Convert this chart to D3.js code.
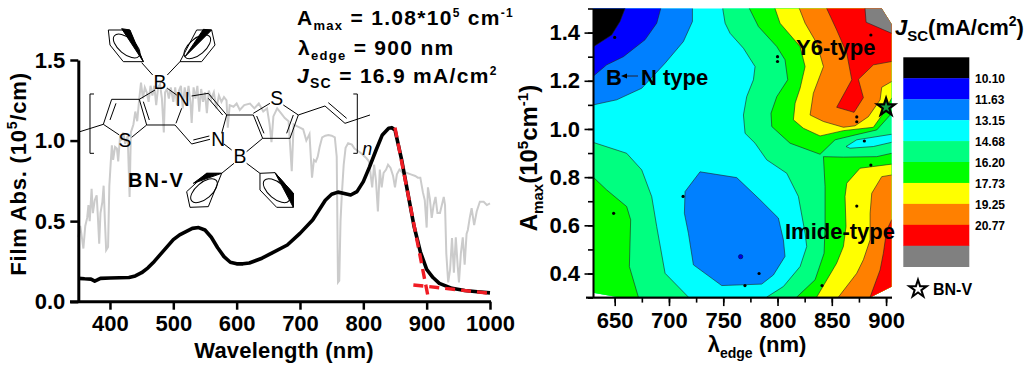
<!DOCTYPE html>
<html>
<head>
<meta charset="utf-8">
<script src="https://cdn.jsdelivr.net/npm/d3@7"></script>
<style>
  html, body { margin: 0; padding: 0; background: #fff; }
  svg { display: block; }
  text { font-family: "Liberation Sans", Arial, sans-serif; font-weight: bold; fill: #000; }
</style>
</head>
<body>
<div id="chart"></div>
<script>
// left panel: film absorption, [wavelength nm, abs 10^5/cm]
const absCurve = [[350,.145],[360,.142],[370,.14],[376,.128],[380,.135],[385,.145],[400,.147],[430,.15],[440,.16],[450,.18],[460,.21],[470,.25],[480,.295],[490,.34],[500,.385],[510,.415],[520,.435],[530,.455],[540,.46],[550,.445],[560,.40],[570,.335],[580,.28],[590,.245],[600,.235],[610,.235],[620,.24],[640,.27],[650,.29],[680,.352],[700,.424],[720,.507],[740,.63],[750,.667],[760,.68],[770,.672],[780,.662],[790,.683],[800,.745],[810,.838],[820,.94],[830,1.035],[840,1.077],[845,1.08],[850,1.066],[860,.89],[870,.68],[880,.47],[890,.31],[900,.2],[910,.15],[920,.114],[940,.083],[960,.07],[980,.062],[1000,.055]];

// grey solar spectrum behind the absorption curve
const solarSpectrum = [[350,.40],[353,.47],[356,.39],[358,.33],[361,.47],[364,.52],[366,.60],[368,.50],[371,.70],[373,.55],[376,.63],[379,.66],[381,.52],[383,.36],[385,.55],[388,.62],[390,.72],[392,.50],[394,.32],[397,.34],[399,.72],[401,.85],[403,.97],[405,.88],[408,.96],[411,.95],[413,.87],[416,1.03],[418,1.0],[421,1.05],[424,.98],[428,1.03],[431,.65],[433,1.05],[437,1.1],[440,1.18],[443,1.12],[446,1.25],[449,1.36],[452,1.26],[455,1.33],[458,1.30],[461,1.24],[464,1.34],[467,1.28],[470,1.34],[473,1.22],[476,1.33],[479,1.35],[482,1.26],[485,1.05],[487,1.30],[490,1.32],[493,1.26],[496,1.33],[500,1.24],[503,1.33],[506,1.22],[509,1.31],[512,1.34],[515,1.2],[518,1.33],[521,1.25],[524,1.34],[527,1.24],[529,1.11],[532,1.33],[535,1.26],[538,1.34],[541,1.18],[544,1.32],[547,1.24],[550,1.3],[553,1.17],[556,1.31],[560,1.26],[564,1.3],[568,1.2],[572,1.28],[576,1.24],[580,1.27],[584,1.25],[586,1.08],[589,1.22],[595,1.21],[600,1.23],[605,1.19],[612,1.22],[621,1.23],[628,1.2],[635,1.23],[642,1.18],[648,1.2],[652,1.1],[655,.99],[658,1.15],[664,1.2],[670,1.17],[676,1.14],[682,1.12],[687,.81],[690,1.1],[695,1.09],[700,1.08],[705,1.07],[710,1.0],[715,1.04],[719,.77],[722,.88],[725,.87],[728,.9],[731,.96],[735,1.02],[740,1.03],[745,1.035],[750,1.03],[755,1.02],[758,.9],[760,.12],[762,.13],[764,.5],[766,.66],[769,.85],[772,.955],[776,.983],[782,.975],[786,.95],[790,.94],[797,.92],[805,.89],[809,.87],[814,.71],[817,.85],[820,.75],[823,.56],[826,.82],[829,.71],[832,.8],[836,.82],[839,.85],[843,.83],[847,.78],[850,.71],[853,.79],[857,.82],[862,.8],[868,.8],[875,.79],[882,.78],[886,.77],[890,.77],[894,.68],[897,.63],[900,.46],[902,.71],[905,.64],[908,.52],[911,.6],[914,.65],[917,.55],[921,.55],[924,.6],[927,.65],[929,.6],[931,.3],[934,.12],[937,.2],[940,.395],[943,.18],[946,.4],[949,.22],[951,.12],[954,.3],[957,.4],[960,.23],[963,.42],[965,.445],[968,.52],[971,.58],[975,.475],[979,.56],[984,.62],[990,.62],[995,.6],[1000,.61]];

// the two tangents used to read the absorption edge
const edgeTangent = [[850,1.08],[902,0.035]];
const baseTangent = [[879,.104],[1000,.052]];

const absTicksX = [400, 500, 600, 700, 800, 900, 1000];
const absTicksY = [0, 0.5, 1.0, 1.5];

// right panel: contour regions, [edge nm, Amax 10^5/cm], painted back to front over cyan
const regionMidBlueTop = [[620,1.09],[651.8,1.121],[674.9,1.169],[696.4,1.273],[713.3,1.363],[721.6,1.446],[721.6,1.55],[620,1.55]];
const regionBlueTop = [[620,1.22],[629.7,1.217],[642.6,1.266],[658,1.30],[677.9,1.37],[688.7,1.439],[692.4,1.50],[692.4,1.55],[620,1.55]];
const regionBlackTop = [[620,1.34],[629.7,1.339],[647.2,1.39],[654.9,1.446],[659.5,1.50],[659.5,1.55],[620,1.55]];
const regionSpringLeft = [[620,.945],[629.7,.945],[661,.899],[674.9,.83],[684.1,.719],[688.7,.595],[696.4,.401],[717.9,.302],[725,.25],[620,.25]];
const regionGreenLeft = [[620,.802],[629.7,.802],[642.6,.747],[661,.678],[664.7,.623],[663.5,.429],[671.8,.302],[675,.25],[620,.25]];
const regionMidBlueCentre = [[728.6,.822],[762.4,.798],[783.9,.706],[800.8,.63],[805.4,.54],[806.9,.471],[796.2,.394],[785.4,.356],[748.6,.35],[722.5,.436],[717.9,.567],[714.2,.65],[714.8,.74]];
const regionSpringRight = [[749.5,1.55],[749.5,1.50],[751.7,1.439],[756.3,1.397],[768.6,1.335],[779.3,1.259],[777.8,1.204],[771.6,1.134],[768.6,1.058],[770.1,.982],[779.3,.941],[790,.872],[808.5,.816],[819.2,.72],[825.4,.567],[826.9,.512],[820.8,.429],[805.4,.346],[790,.302],[780,.25],[915,.25],[915,1.55]];
const regionCyanSliver = [[863.1,.927],[873,.955],[915,.985],[915,.955],[888.3,.927],[866.8,.92]];
const regionGreenUpper = [[774.1,1.55],[774.1,1.50],[782.4,1.425],[799.3,1.342],[806.9,1.287],[809.4,1.204],[799.3,1.134],[794,1.065],[794.7,1.01],[811.5,.941],[839.2,.895],[853,.955],[871.4,.975],[891.4,.996],[905.2,1.065],[915,1.075],[915,1.55]];
const regionGreenLower = [[842.3,.885],[860.7,.883],[891.4,.885],[905.2,.899],[915,.9],[915,.25],[805,.25],[817.7,.302],[834.6,.374],[842.9,.484],[843.8,.595],[843.8,.761]];
const regionYellowLower = [[915,.855],[905.2,.854],[876,.837],[863.8,.775],[862.2,.72],[863.1,.595],[860.7,.512],[854.5,.443],[836.1,.302],[825,.25],[915,.25]];
const regionOrangeLower = [[915,.81],[905.2,.809],[896,.802],[886.8,.733],[885.3,.65],[885.3,.54],[879.1,.457],[873,.401],[856.1,.302],[845,.25],[915,.25]];
const regionRedLower = [[915,.62],[905.2,.623],[900.6,.581],[897.5,.484],[894.5,.415],[885.3,.302],[880,.25],[915,.25]];
const regionYellowUpper = [[797.7,1.55],[797.7,1.50],[802.3,1.439],[820.8,1.342],[825.4,1.259],[820.8,1.169],[816.2,1.107],[814.6,1.038],[823.8,1.003],[839.2,.971],[860.7,.993],[888.3,1.007],[897.5,1.065],[905.2,1.128],[915,1.14],[915,1.55]];
const regionOrangeUpper = [[820.1,1.55],[820.1,1.50],[825.4,1.439],[836.1,1.356],[842.3,1.259],[833,1.148],[830,1.058],[842.3,1.031],[860.7,1.007],[871.4,1.013],[883.7,1.051],[894.5,1.121],[896,1.173],[905.2,1.197],[915,1.2],[915,1.55]];
const regionRedUpper = [[845.3,1.55],[845.3,1.50],[854.5,1.411],[863.8,1.314],[868.4,1.204],[854.5,1.09],[870.5,1.069],[879.1,1.13],[874.5,1.206],[888.3,1.266],[905.2,1.28],[915,1.28],[915,1.55]];
const regionGreyTop = [[880.6,1.55],[880.6,1.50],[881.6,1.443],[905.2,1.397],[915,1.39],[915,1.55]];
const plotOutline = [[630,1.5],[896,1.5],[905,1.436],[905,.345],[885.3,.3],[655,.3],[630,.32]];

// devices measured
const deviceEdge = [650,800,800,886,873,873,880,886,873,649,713,783,770,841];
const deviceAmax = [1.38,1.30,1.28,1.39,1.05,1.03,.95,.85,.68,.65,.72,.40,.35,.35];
const bluePoint = [766,.47];
const bnvPoint = [900,1.09];

const contourTicksX = [650,700,750,800,850,900];
const contourTicksY = [.4,.6,.8,1.0,1.2,1.4];
const jscLabels = ["10.10","11.63","13.15","14.68","16.20","17.73","19.25","20.77"];
const bandColors = ["#000000","#0000ff","#0080ff","#00ffff","#00ff80","#00ff00","#ffff00","#ff8000","#ff0000","#808080"];

const layers = [
  [regionMidBlueTop,2],[regionBlueTop,1],[regionBlackTop,0],
  [regionSpringLeft,4],[regionGreenLeft,5],[regionMidBlueCentre,2],
  [regionSpringRight,4],[regionCyanSliver,3],[regionGreenUpper,5],[regionGreenLower,5],
  [regionYellowLower,6],[regionOrangeLower,7],[regionRedLower,8],
  [regionYellowUpper,6],[regionOrangeUpper,7],[regionRedUpper,8],[regionGreyTop,9]
];

const svg = d3.select('#chart').append('svg').attr('width', 1024).attr('height', 366);

// text with sub/superscript pieces: [string, size, dy, style]
function richText(parent, x, y, pieces, attrs = {}) {
  const t = parent.append('text').attr('x', x).attr('y', y);
  Object.entries(attrs).forEach(([k, v]) => t.attr(k, v));
  let prev = 0;
  pieces.forEach(([s, size, shift, style]) => {
    const span = t.append('tspan').attr('font-size', size).attr('dy', (shift || 0) - prev).text(s);
    if (style) span.attr('font-style', style);
    prev = shift || 0;
  });
  return t;
}

//---- left panel
const xAbs = d3.scaleLinear().domain([350, 1000]).range([78.3, 490]);
const yAbs = d3.scaleLinear().domain([0, 1.5]).range([301.7, 60]);
const absLine = d3.line().x(d => xAbs(d[0])).y(d => yAbs(d[1]));

svg.append('path').datum(solarSpectrum).attr('d', absLine)
  .attr('fill', 'none').attr('stroke', '#cbcbcb').attr('stroke-width', 2);

// molecule inset, drawn at 3x and scaled down
const mol = svg.append('g').attr('transform', 'translate(80,20) scale(0.3333)')
  .attr('fill', 'none').attr('stroke', '#000').attr('stroke-width', 3);
const moleculeBonds = [
  'M42 222H30V400H42', 'M820 222H832V400H820', 'M0 335L70 313L95 238H178L200 315L155 352', 'M70 313L118 345',
  'M90 300L108 250', 'M190 245L208 300', 'M178 238L225 210', 'M200 315H285L335 372L390 358', 'M340 360L388 348',
  'M288 310L305 265', 'M262 205L290 225', 'M335 228L385 220L440 285L425 340', 'M385 235L428 285',
  'M440 285H520L548 355H630L655 285L610 255', 'M530 288L552 340', 'M620 340L640 285', 'M520 280L570 250',
  'M655 285L735 258L795 310L870 285', 'M745 248L800 295', 'M432 372L455 390', 'M500 395L548 355',
  'M218 165L185 128', 'M262 165L300 125', 'M425 460L462 430', 'M540 460L500 430'
];
mol.selectAll('path.bond').data(moleculeBonds).join('path').attr('class', 'bond').attr('d', d => d);
const phenylRings = [
  { ring: 'M85 30L148 30L190 125L130 125L90 75Z', wedge: 'M125 26L150 30L190 125Z', c: [140, 78], a: 40 },
  { ring: 'M395 30L350 30L300 125L365 125L405 75Z', wedge: 'M370 28L395 30L315 110Z', c: [352, 80], a: -40 },
  { ring: 'M425 460L380 460L320 515L330 562L385 560Z', wedge: 'M380 460L425 460L340 490Z', c: [372, 512], a: -40 },
  { ring: 'M540 460L585 458L640 520L640 562L590 562L540 510Z', wedge: 'M585 458L640 520L640 562Z', c: [590, 512], a: 40 }
];
mol.selectAll('path.ring').data(phenylRings).join('path').attr('class', 'ring').attr('d', d => d.ring);
mol.selectAll('path.wedge').data(phenylRings).join('path').attr('class', 'wedge').attr('d', d => d.wedge).attr('fill', '#000');
mol.selectAll('ellipse').data(phenylRings).join('ellipse')
  .attr('rx', 48).attr('ry', 24)
  .attr('transform', d => `translate(${d.c[0]},${d.c[1]}) rotate(${d.a})`);
const atomLabels = [['S',135,382],['B',240,208],['N',308,258],['N',415,378],['B',480,428],['S',590,255]];
mol.selectAll('text').data(atomLabels).join('text')
  .attr('x', d => d[1]).attr('y', d => d[2]).attr('text-anchor', 'middle')
  .attr('font-size', 58).attr('stroke', 'none').style('font-weight', 'normal').text(d => d[0]);
mol.append('text').attr('x', 862).attr('y', 405).attr('text-anchor', 'middle').attr('font-size', 54)
  .attr('font-style', 'italic').attr('stroke', 'none').style('font-weight', 'normal').text('n');

svg.append('path').datum(absCurve).attr('d', absLine)
  .attr('fill', 'none').attr('stroke', '#000').attr('stroke-width', 3.6).attr('stroke-linejoin', 'round');

[edgeTangent, baseTangent].forEach(seg => {
  svg.append('path').datum(seg).attr('d', absLine)
    .attr('fill', 'none').attr('stroke', '#f01c24').attr('stroke-width', 3.4).attr('stroke-dasharray', '10 6');
});

const axisAbsX = svg.append('g').attr('transform', 'translate(0,301.7)')
  .call(d3.axisBottom(xAbs).tickValues(absTicksX).tickSize(8).tickSizeOuter(0).tickFormat(d3.format('d')));
const axisAbsY = svg.append('g').attr('transform', 'translate(78.3,0)')
  .call(d3.axisLeft(yAbs).tickValues(absTicksY).tickSize(8).tickSizeOuter(0).tickFormat(d3.format('.1f')));
[axisAbsX, axisAbsY].forEach(ax => {
  ax.selectAll('line').attr('stroke', '#000').attr('stroke-width', 2.5);
  ax.selectAll('path').attr('stroke', '#000').attr('stroke-width', 3);
  ax.selectAll('text').attr('font-size', 22).attr('font-family', null).attr('fill', '#000');
});
axisAbsX.selectAll('text').attr('y', 14);
axisAbsY.selectAll('text').attr('x', -13);
axisAbsX.select('.domain').attr('d', 'M70 0H491');

svg.append('text').attr('x', 284).attr('y', 358).attr('text-anchor', 'middle')
  .attr('font-size', 22).attr('letter-spacing', .2).text('Wavelength (nm)');
richText(svg, 0, 0, [['Film Abs. (10', 22], ['5', 14, -9], ['/cm)', 22]],
  { transform: 'translate(26,174) rotate(-90)', 'text-anchor': 'middle', 'letter-spacing': .8 });

richText(svg, 297, 25, [['A', 21], ['max', 13, 5], [' = 1.08*10', 21], ['5', 12, -8], [' cm', 21], ['-1', 12, -8]], { 'letter-spacing': 1.3 });
richText(svg, 298, 55, [['λ', 21], ['edge', 13, 5], [' = 900 nm', 21]], { 'letter-spacing': 1.3 });
richText(svg, 297, 83, [['J', 21, 0, 'italic'], ['SC', 14, 5], [' = 16.9 mA/cm', 21], ['2', 12, -8]], { 'letter-spacing': 1.3 });
svg.append('text').attr('x', 128).attr('y', 187).attr('font-size', 20).attr('letter-spacing', 2).text('BN-V');

//---- right panel
const xEdge = d3.scaleLinear().domain([630, 905]).range([593, 891.5]);
const yAmax = d3.scaleLinear().domain([.3, 1.5]).range([297.6, 8.5]);
const regionLine = d3.line().x(d => xEdge(d[0])).y(d => yAmax(d[1]));

svg.append('clipPath').attr('id', 'plot-clip').append('path').attr('d', regionLine(plotOutline) + 'Z');
const plot = svg.append('g').attr('clip-path', 'url(#plot-clip)');
plot.append('rect').attr('x', 580).attr('y', 0).attr('width', 330).attr('height', 310).attr('fill', bandColors[3]);
plot.selectAll('path').data(layers).join('path')
  .attr('d', d => regionLine(d[0]) + 'Z')
  .attr('fill', d => bandColors[d[1]])
  .attr('stroke', '#222').attr('stroke-width', .6);

svg.selectAll('circle.device').data(deviceEdge).join('circle').attr('class', 'device')
  .attr('cx', d => xEdge(d)).attr('cy', (d, i) => yAmax(deviceAmax[i])).attr('r', 1.6).attr('fill', '#000');
svg.append('circle').attr('cx', xEdge(bluePoint[0])).attr('cy', yAmax(bluePoint[1])).attr('r', 2.2)
  .attr('fill', '#0000e0').attr('stroke', '#003').attr('stroke-width', .5);

const starPath = d3.symbol().type(d3.symbolStar).size(95);
svg.append('path').attr('d', starPath()).attr('transform', `translate(${xEdge(bnvPoint[0])},${yAmax(bnvPoint[1])})`)
  .attr('fill', '#10a040').attr('stroke', '#000').attr('stroke-width', 2.2);

const axisEdge = svg.append('g').attr('transform', 'translate(0,297.6)');
axisEdge.append('g').call(d3.axisBottom(xEdge).tickValues(d3.range(650, 901, 25)).tickSize(5).tickSizeOuter(0).tickFormat(''));
axisEdge.append('g').call(d3.axisBottom(xEdge).tickValues(contourTicksX).tickSize(8.5).tickSizeOuter(0).tickFormat(d3.format('d')));
const axisAmax = svg.append('g').attr('transform', 'translate(593,0)');
axisAmax.append('g').call(d3.axisLeft(yAmax).tickValues(d3.range(.3, 1.51, .1)).tickSize(5).tickSizeOuter(0).tickFormat(''));
axisAmax.append('g').call(d3.axisLeft(yAmax).tickValues(contourTicksY).tickSize(8.5).tickSizeOuter(0).tickFormat(d3.format('.1f')));
[axisEdge, axisAmax].forEach(ax => {
  ax.selectAll('path, line').attr('stroke', '#000').attr('stroke-width', 1.6);
  ax.selectAll('text').attr('font-size', 22).attr('font-family', null).attr('fill', '#000');
});
axisEdge.selectAll('text').attr('y', 15);
axisAmax.selectAll('text').attr('x', -13);
axisEdge.selectAll('.domain').attr('d', 'M586 0H892');

richText(svg, 757, 352, [['λ', 22], ['edge', 14, 6], [' (nm)', 22]], { 'text-anchor': 'middle' });
richText(svg, 0, 0, [['A', 24], ['max', 15, 6], ['(10', 24], ['5', 15, -9], ['cm', 24], ['-1', 15, -9], [')', 24]],
  { transform: 'translate(537,158) rotate(-90)', 'text-anchor': 'middle' });

svg.append('text').attr('x', 796).attr('y', 55).attr('font-size', 22).text('Y6-type');
svg.append('text').attr('x', 606).attr('y', 85).attr('font-size', 22).text('B');
svg.append('text').attr('x', 641).attr('y', 85).attr('font-size', 22).text('N type');
svg.append('text').attr('x', 785).attr('y', 239).attr('font-size', 22).text('Imide-type');
// dative bond arrow in the B-N label
svg.append('path').attr('d', 'M638 76H625').attr('stroke', '#223').attr('stroke-width', 1);
svg.append('path').attr('d', 'M621 76L627 73.5V78.5Z').attr('fill', '#000');

// colour legend
const legendY = d3.scaleBand().domain(bandColors).range([57.3, 266.7]);
svg.selectAll('rect.band').data(bandColors).join('rect').attr('class', 'band')
  .attr('x', 903.3).attr('width', 66).attr('y', d => legendY(d)).attr('height', legendY.bandwidth() + .3)
  .attr('fill', d => d);
svg.selectAll('text.band').data(jscLabels).join('text').attr('class', 'band')
  .attr('x', 975).attr('y', (d, i) => 57.3 + legendY.bandwidth() * (i + 1) + 5)
  .attr('font-size', 12).text(d => d);
richText(svg, 895, 35, [['J', 22, 0, 'italic'], ['SC', 15, 6], ['(mA/cm', 22], ['2', 14, -9], [')', 22]]);

svg.append('path').attr('d', starPath()).attr('transform', 'translate(918,289)')
  .attr('fill', '#fff').attr('stroke', '#000').attr('stroke-width', 2);
svg.append('text').attr('x', 933).attr('y', 295).attr('font-size', 16).text('BN-V');
</script>
</body>
</html>
